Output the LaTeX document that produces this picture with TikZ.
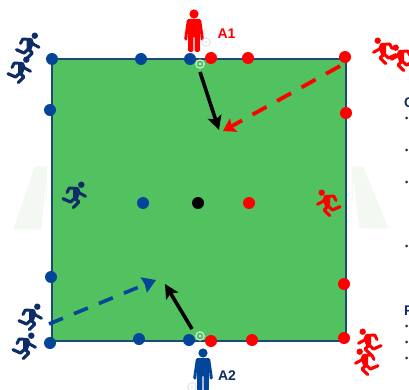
\documentclass[tikz,border=0pt]{standalone}
\usepackage{fontspec}
\setmainfont{Liberation Sans}
\usepackage{tikz}
\usetikzlibrary{arrows.meta}
\definecolor{pitchgreen}{HTML}{52C160}
\definecolor{lineblue}{HTML}{1B4A73}
\definecolor{teamblue}{HTML}{034598}
\definecolor{teamnavy}{HTML}{0E2C66}
\definecolor{teamred}{HTML}{FF0000}
\definecolor{goalgray}{HTML}{F3F8F2}
\tikzset{
  dotB/.style   ={circle, fill=teamblue, inner sep=0pt, minimum size=12pt},
  dotR/.style   ={dotB, fill=teamred},
  dotK/.style   ={dotB, fill=black},
  lab/.style    ={font=\fontsize{14}{14}\selectfont\bfseries, inner sep=0pt},
  bul/.style    ={circle, fill=teamnavy, inner sep=0pt, minimum size=3pt},
  passK/.style  ={-{Stealth[length=14pt,width=14pt,inset=3pt]}, line width=3.6pt, draw=black},
  passR/.style  ={-{Stealth[length=12pt,width=15pt,inset=2pt]}, line width=3.8pt, draw=teamred, dash pattern=on 16pt off 12pt},
  passB/.style  ={-{Stealth[length=13pt,width=16pt,inset=1pt]}, line width=3.6pt, draw=teamblue, dash pattern=on 15pt off 12pt},
  goal/.style   ={fill=goalgray, draw=goalgray, line width=0.8pt},
  runner/.pic   ={
    \fill (7.3,-10.3) circle (3.2);
    \fill (-1,-6.5) -- (5,-7.5) -- (6,-2) -- (3.5,4.5) -- (-1,3) -- cycle;
    \draw[line width=3pt, line cap=round, line join=round]
      (-7,-2.5) -- (-4.7,-7) -- (3,-6.5) -- (5.5,-2) -- (11.5,1.3);
    \draw[line width=3.2pt, line cap=round, line join=round]
      (-11,3.7) -- (-3.5,7) -- (1,3) -- (4.8,7) -- (-0.7,12.5);
  },
  person/.pic   ={
    \fill (0,0) circle (4.6);
    \fill[rounded corners=1.5pt] (-7,5) -- (7,5) -- (10,26) -- (6.8,27) -- (5.8,14)
      -- (5.8,38) -- (0.6,38) -- (0.6,22) -- (-0.6,22) -- (-0.6,38) -- (-5.8,38)
      -- (-5.8,14) -- (-6.8,27) -- (-10,26) -- cycle;
  },
  ball/.pic     ={
    \draw[line width=1.2pt] (0,0) circle (4.2);
    \fill (0,0) circle (1.5);
  },
}

\begin{document}
\begin{tikzpicture}[x=1pt, y=-1pt]
  \clip (0,0) rectangle (409,390);
  % goals
  \fill[goal] (35,167) -- (47,167) -- (41,229) -- (14,229) -- cycle;
  \draw[goal] (46,167) -- (46,202);
  \fill[goal] (352,167) -- (363,167) -- (388,228) -- (360,228) -- cycle;
  \draw[goal] (352,167) -- (352,201);
  % pitch
  \node[draw=lineblue, line width=1.5pt, fill=pitchgreen, inner sep=0pt,
        minimum width=294pt, minimum height=282pt] (pitch) at (199,200) {};
  % players
  \pic[color=teamred]  (pa1) at (194,14)  {person};
  \pic[color=teamblue] (pa2) at (203,353) {person};
  \node[lab, text=teamred]  (a1) at (226.5,34) {A1};
  \node[lab, text=teamnavy] (a2) at (227,376)  {A2};
  \pic[color=teamnavy] (rb1) at (27.5,46) {runner};
  \pic[color=teamnavy] (rb2) at (19,70)   {runner};
  \pic[color=teamnavy] (rb3) at (30,317)  {runner};
  \pic[color=teamnavy] (rb4) at (24,346)  {runner};
  \pic[color=teamnavy] (rb5) at (74,195)  {runner};
  \pic[color=teamred, xscale=-1] (rr1) at (385,51)  {runner};
  \pic[color=teamred, xscale=-1] (rr2) at (403,58)  {runner};
  \pic[color=teamred, xscale=-1] (rr3) at (370,342) {runner};
  \pic[color=teamred, xscale=-1] (rr4) at (367,362) {runner};
  \pic[color=teamred, xscale=-1] (rr5) at (329,203) {runner};
  % balls
  \pic[color=white, opacity=0.7] (b1) at (200,64)  {ball};
  \pic[color=white, opacity=0.7] (b2) at (200,336) {ball};
  \pic[color=black!15, opacity=0.6] (b3) at (206,42)  {ball};
  \pic[color=black!15, opacity=0.6] (b4) at (192,387) {ball};
  % blue cones
  \node[dotB] (bl1) at (52,59)   {};
  \node[dotB] (bl2) at (141,59)  {};
  \node[dotB] (bl3) at (190,59)  {};
  \node[dotB] (bl4) at (50,110)  {};
  \node[dotB] (bl5) at (143,203) {};
  \node[dotB] (bl6) at (51,277)  {};
  \node[dotB] (bl7) at (50,343)  {};
  \node[dotB] (bl8) at (139,339) {};
  \node[dotB] (bl9) at (189,340) {};
  % red cones
  \node[dotR] (rd1) at (211,58)  {};
  \node[dotR] (rd2) at (248,58)  {};
  \node[dotR] (rd3) at (345,57)  {};
  \node[dotR] (rd4) at (346,113) {};
  \node[dotR] (rd5) at (249,203) {};
  \node[dotR] (rd6) at (344,284) {};
  \node[dotR] (rd7) at (344,338) {};
  \node[dotR] (rd8) at (252,340) {};
  \node[dotR] (rd9) at (211,341) {};
  \node[dotK] (mid) at (198,203) {};
  % passes
  \coordinate (k1s) at (200,72);
  \coordinate (k1e) at (219,130);
  \coordinate (k2s) at (192,329);
  \coordinate (k2e) at (165,284);
  \coordinate (rs)  at (340,66);
  \coordinate (re)  at (223,131);
  \coordinate (bs)  at (49,324);
  \coordinate (be)  at (156,280);
  \draw[passK] (k1s) -- (k1e);
  \draw[passK] (k2s) -- (k2e);
  \draw[passR] (rs) -- (re);
  \draw[passB] (bs) -- (be);
  % text cut off at the right edge
  \node[lab, text=teamnavy, anchor=west] (tc) at (404,102.5) {C};
  \node[lab, text=teamnavy, anchor=west] (tf) at (404,311)   {F};
  \node[bul] (u1) at (406.5,118) {};
  \node[bul] (u2) at (406.5,150) {};
  \node[bul] (u3) at (406.5,182) {};
  \node[bul] (u4) at (406.5,246) {};
  \node[bul] (u5) at (406.5,326) {};
  \node[bul] (u6) at (406.5,342) {};
  \node[bul] (u7) at (406.5,358) {};
\end{tikzpicture}
\end{document}
